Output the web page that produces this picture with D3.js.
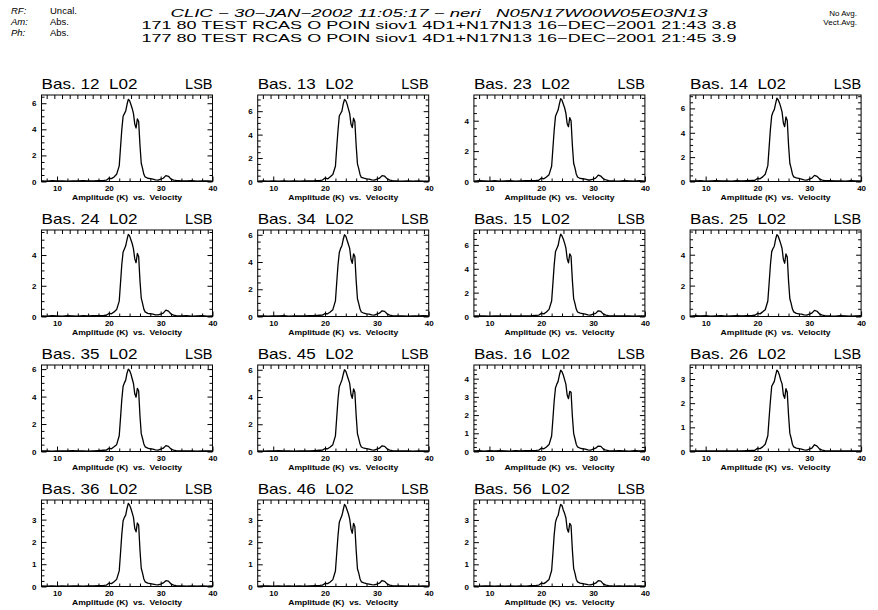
<!DOCTYPE html>
<html lang='en'>
<head>
<meta charset='UTF-8'>
<style>
  body { margin: 0; background: #fff; }
  svg { display: block; }
  text { font-family: 'Liberation Sans', Arial, sans-serif; fill: #000; }
</style>
<script src="https://cdnjs.cloudflare.com/ajax/libs/d3/7.8.5/d3.min.js"></script>
<title>CLIC spectra</title>
</head>
<body>
<svg id='chart'></svg>
<script>
'use strict'

// velocity channels (km/s) shared by all baselines
const velocity = [7, 8, 9, 10, 11, 12, 13, 14, 15, 16, 17, 18, 19,
  19.5, 20, 20.5, 21, 21.5,
  22, 22.25, 22.5, 22.75, 23, 23.25, 23.5, 23.75, 24, 24.25, 24.5, 24.75, 25, 25.25, 25.5, 25.75, 26, 26.25, 26.5, 26.75, 27,
  27.5, 28, 28.5, 29, 29.5, 30, 30.5, 31, 31.5, 32, 32.5, 33,
  34, 35, 36, 37, 38, 39, 40]

const amp12 = [0.05,0.03,0.06,0.04,0.05,0.03,0.05,0.04,0.06,0.05,0.04,0.06,0.08, 0.10,0.25,0.22,0.35,0.55, 1.2,2.6,4.0,5.0,5.2,5.4,5.9,6.3,6.2,5.9,5.6,5.2,4.4,4.1,4.8,4.6,2.8,1.4,1.0,0.55,0.35, 0.25,0.22,0.18,0.12,0.10,0.18,0.25,0.45,0.40,0.18,0.10,0.08, 0.05,0.04,0.06,0.03,0.05,0.04,0.03]
const amp13 = [0.04,0.06,0.03,0.05,0.04,0.06,0.03,0.05,0.04,0.06,0.05,0.07,0.10, 0.12,0.30,0.22,0.40,0.60, 1.3,2.9,4.4,5.6,5.8,6.0,6.6,7.0,6.9,6.6,6.2,5.8,4.9,4.6,5.4,5.1,3.1,1.5,1.1,0.60,0.35, 0.28,0.22,0.20,0.14,0.12,0.20,0.28,0.50,0.45,0.22,0.12,0.08, 0.05,0.03,0.06,0.04,0.05,0.03,0.04]
const amp23 = [0.03,0.05,0.04,0.02,0.05,0.03,0.04,0.05,0.03,0.04,0.05,0.06,0.07, 0.08,0.22,0.18,0.30,0.45, 1.0,2.2,3.4,4.3,4.5,4.7,5.1,5.45,5.35,5.1,4.85,4.5,3.8,3.6,4.2,4.0,2.4,1.2,0.9,0.5,0.3, 0.20,0.18,0.15,0.10,0.10,0.15,0.22,0.42,0.35,0.18,0.10,0.06, 0.04,0.03,0.05,0.04,0.03,0.05,0.03]
const amp14 = [0.05,0.04,0.06,0.03,0.05,0.06,0.04,0.05,0.03,0.06,0.05,0.08,0.10, 0.10,0.25,0.22,0.38,0.60, 1.3,2.8,4.3,5.4,5.7,5.9,6.4,6.85,6.7,6.45,6.1,5.7,4.8,4.5,5.3,5.0,3.0,1.5,1.1,0.60,0.38, 0.30,0.25,0.20,0.14,0.12,0.20,0.28,0.50,0.42,0.20,0.12,0.08, 0.06,0.04,0.05,0.03,0.06,0.04,0.05]
const amp24 = [0.04,0.03,0.05,0.04,0.03,0.05,0.04,0.03,0.05,0.04,0.05,0.06,0.07, 0.08,0.20,0.18,0.30,0.45, 1.0,2.2,3.4,4.2,4.4,4.6,5.0,5.35,5.25,5.0,4.75,4.4,3.75,3.5,4.1,3.9,2.35,1.2,0.85,0.48,0.30, 0.20,0.18,0.15,0.10,0.10,0.16,0.22,0.42,0.35,0.16,0.09,0.06, 0.04,0.05,0.03,0.04,0.05,0.03,0.04]
const amp34 = [0.05,0.04,0.03,0.05,0.04,0.06,0.03,0.05,0.04,0.05,0.06,0.07,0.09, 0.10,0.22,0.20,0.33,0.50, 1.15,2.5,3.8,4.7,5.0,5.2,5.65,6.0,5.9,5.6,5.3,5.0,4.2,3.9,4.6,4.4,2.65,1.3,0.95,0.55,0.33, 0.24,0.20,0.18,0.12,0.10,0.18,0.24,0.42,0.38,0.18,0.10,0.07, 0.05,0.04,0.03,0.05,0.04,0.06,0.04]
const amp15 = [0.04,0.06,0.05,0.03,0.05,0.04,0.06,0.04,0.05,0.04,0.06,0.07,0.10, 0.11,0.26,0.22,0.38,0.60, 1.3,2.8,4.35,5.45,5.7,5.95,6.5,6.9,6.75,6.5,6.15,5.75,4.85,4.5,5.25,5.05,3.05,1.5,1.1,0.62,0.38, 0.28,0.24,0.20,0.14,0.12,0.20,0.26,0.48,0.42,0.20,0.12,0.08, 0.05,0.06,0.04,0.05,0.03,0.05,0.04]
const amp25 = [0.03,0.05,0.04,0.05,0.03,0.04,0.05,0.03,0.04,0.05,0.04,0.06,0.07, 0.08,0.20,0.17,0.30,0.44, 1.0,2.15,3.35,4.2,4.4,4.55,5.0,5.3,5.2,4.95,4.7,4.4,3.7,3.45,4.05,3.85,2.3,1.15,0.85,0.48,0.30, 0.20,0.17,0.15,0.10,0.09,0.15,0.22,0.40,0.34,0.16,0.09,0.06, 0.04,0.03,0.05,0.04,0.03,0.04,0.05]
const amp35 = [0.04,0.05,0.03,0.05,0.04,0.05,0.06,0.04,0.05,0.03,0.05,0.07,0.09, 0.10,0.23,0.20,0.34,0.50, 1.15,2.45,3.8,4.75,5.0,5.2,5.7,6.0,5.9,5.65,5.3,4.95,4.2,3.95,4.6,4.4,2.6,1.3,0.95,0.55,0.34, 0.25,0.20,0.17,0.12,0.10,0.17,0.24,0.43,0.37,0.17,0.10,0.07, 0.04,0.05,0.04,0.03,0.05,0.04,0.05]
const amp45 = [0.05,0.03,0.05,0.04,0.06,0.04,0.05,0.03,0.05,0.05,0.04,0.07,0.09, 0.10,0.22,0.20,0.33,0.50, 1.15,2.5,3.85,4.75,5.0,5.25,5.65,6.0,5.9,5.6,5.3,5.0,4.2,3.9,4.6,4.35,2.65,1.3,0.95,0.55,0.33, 0.24,0.21,0.18,0.12,0.10,0.18,0.24,0.42,0.38,0.18,0.10,0.07, 0.05,0.04,0.05,0.03,0.04,0.05,0.04]
const amp16 = [0.03,0.04,0.02,0.04,0.03,0.04,0.03,0.02,0.04,0.03,0.04,0.05,0.06, 0.07,0.18,0.15,0.25,0.38, 0.85,1.8,2.8,3.5,3.7,3.85,4.2,4.46,4.38,4.2,3.95,3.7,3.1,2.9,3.3,3.25,1.95,1.0,0.7,0.4,0.25, 0.18,0.15,0.13,0.09,0.07,0.13,0.18,0.30,0.28,0.13,0.07,0.05, 0.03,0.04,0.03,0.02,0.04,0.03,0.04]
const amp26 = [0.02,0.03,0.02,0.03,0.02,0.03,0.02,0.03,0.02,0.03,0.03,0.04,0.05, 0.05,0.13,0.12,0.19,0.30, 0.65,1.4,2.1,2.7,2.8,2.9,3.15,3.37,3.3,3.15,2.95,2.8,2.35,2.2,2.6,2.45,1.5,0.75,0.55,0.30,0.19, 0.14,0.12,0.10,0.07,0.06,0.10,0.14,0.28,0.22,0.10,0.06,0.04, 0.03,0.02,0.03,0.02,0.03,0.02,0.03]
const amp36 = [0.03,0.02,0.03,0.02,0.03,0.02,0.03,0.03,0.02,0.03,0.03,0.04,0.05, 0.06,0.15,0.13,0.21,0.32, 0.7,1.5,2.35,2.95,3.1,3.2,3.5,3.73,3.65,3.5,3.3,3.1,2.6,2.45,2.85,2.75,1.65,0.82,0.6,0.34,0.21, 0.15,0.13,0.11,0.08,0.07,0.11,0.16,0.26,0.24,0.11,0.06,0.04, 0.03,0.02,0.03,0.02,0.03,0.02,0.03]
const amp46 = [0.02,0.03,0.03,0.02,0.03,0.02,0.03,0.02,0.03,0.02,0.03,0.04,0.05, 0.06,0.14,0.13,0.20,0.31, 0.7,1.5,2.3,2.9,3.05,3.2,3.45,3.7,3.62,3.45,3.28,3.05,2.6,2.4,2.85,2.7,1.65,0.8,0.6,0.34,0.21, 0.16,0.13,0.11,0.08,0.07,0.11,0.15,0.27,0.23,0.11,0.06,0.04, 0.03,0.03,0.02,0.03,0.02,0.03,0.02]
const amp56 = [0.03,0.02,0.03,0.03,0.02,0.03,0.02,0.03,0.02,0.03,0.02,0.04,0.05, 0.06,0.15,0.13,0.21,0.32, 0.72,1.5,2.35,2.9,3.1,3.2,3.5,3.7,3.65,3.45,3.3,3.1,2.6,2.45,2.85,2.75,1.65,0.82,0.6,0.33,0.21, 0.15,0.13,0.11,0.08,0.07,0.11,0.15,0.26,0.24,0.11,0.06,0.04, 0.02,0.03,0.02,0.03,0.02,0.03,0.02]

const baselines = ['12', '13', '23', '14', '24', '34', '15', '25', '35', '45', '16', '26', '36', '46', '56']
const amplitudes = [amp12, amp13, amp23, amp14, amp24, amp34, amp15, amp25, amp35, amp45, amp16, amp26, amp36, amp46, amp56]
const yMax = [6.63, 7.38, 5.69, 7.1, 5.63, 6.35, 7.25, 5.6, 6.3, 6.35, 4.75, 3.58, 3.88, 3.9, 3.9]
const yLabelStep = [2, 2, 2, 2, 2, 2, 2, 2, 2, 2, 1, 1, 1, 1, 1]
const xDomain = [7, 40]
const xLabelTicks = [10, 20, 30, 40]

const headerKeys = ['RF:', 'Am:', 'Ph:']
const headerVals = ['Uncal.', 'Abs.', 'Abs.']
const titleLines = [
  'CLIC \u2212 30\u2212JAN\u22122002 11:05:17 \u2212 neri   N05N17W00W05E03N13',
  '171 80 TEST RCAS O POIN siov1 4D1+N17N13 16\u2212DEC\u22122001 21:43 3.8',
  '177 80 TEST RCAS O POIN siov1 4D1+N17N13 16\u2212DEC\u22122001 21:45 3.9'
]
const avgLines = ['No Avg.', 'Vect.Avg.']

const W = 878, H = 610
const svg = d3.select('#chart').attr('width', W).attr('height', H)

// header
const hdr = svg.append('g')
headerKeys.forEach((k, i) => {
  hdr.append('text').attr('x', 11).attr('y', 13.5 + i * 11.3)
    .style('font-size', '9.5px').style('font-style', 'italic').text(k)
  hdr.append('text').attr('x', 50).attr('y', 13.5 + i * 11.3)
    .style('font-size', '9.5px').text(headerVals[i])
})
const titleLen = [537, 595, 595]
titleLines.forEach((t, i) => {
  hdr.append('text').attr('x', 439).attr('y', 16.5 + i * 12.6)
    .attr('text-anchor', 'middle')
    .attr('textLength', titleLen[i]).attr('lengthAdjust', 'spacingAndGlyphs')
    .style('font-size', '11px').style('font-style', i === 0 ? 'italic' : 'normal')
    .attr('xml:space', 'preserve')
    .text(t)
})
avgLines.forEach((t, i) => {
  hdr.append('text').attr('x', 857).attr('y', 15.5 + i * 9)
    .attr('text-anchor', 'end').style('font-size', '8px').text(t)
})

// panel layout
const boxW = 171, boxH = 86.5
const colX = c => 41.5 + c * 216.2
const rowY = r => 95 + r * 135

const x = d3.scaleLinear().domain(xDomain).range([0, boxW])

baselines.forEach((b, i) => {
  const c = i % 4, r = Math.floor(i / 4)
  const g = svg.append('g').attr('transform', `translate(${colX(c)},${rowY(r)})`)
  const y = d3.scaleLinear().domain([0, yMax[i]]).range([boxH, 0])
  const step = yLabelStep[i]

  // title
  g.append('text').attr('x', 0).attr('y', -6.5)
    .attr('xml:space', 'preserve')
    .attr('textLength', 96).attr('lengthAdjust', 'spacingAndGlyphs')
    .style('font-size', '14.5px')
    .text(`Bas. ${b}  L02`)
  g.append('text').attr('x', boxW).attr('y', -6.5)
    .attr('text-anchor', 'end').style('font-size', '14.5px').text('LSB')

  const yMajor = d3.range(0, yMax[i] + 1e-9, step)
  const yMinor = d3.range(0, yMax[i], step / 4).filter(v => yMajor.indexOf(v) < 0)
  const xMinor = d3.range(8, 40, 2).filter(v => xLabelTicks.indexOf(v) < 0)
  const topTicks = d3.range(8, 40, 1.48)

  const styleAxis = sel => {
    sel.select('.domain').remove()
    sel.selectAll('line').attr('stroke', '#000').attr('stroke-width', 1)
    sel.selectAll('text').style('font-size', '8px').style('font-weight', 'bold')
    sel.attr('font-family', null).attr('font-size', null)
  }

  // left / right ticks
  g.append('g').call(d3.axisLeft(y).tickValues(yMajor).tickSize(-5).tickPadding(5)
    .tickFormat(d3.format('d'))).call(styleAxis)
  g.append('g').call(d3.axisLeft(y).tickValues(yMinor).tickSize(-3).tickFormat('')).call(styleAxis)
  g.append('g').attr('transform', `translate(${boxW},0)`)
    .call(d3.axisRight(y).tickValues(yMajor).tickSize(-5).tickFormat('')).call(styleAxis)
  g.append('g').attr('transform', `translate(${boxW},0)`)
    .call(d3.axisRight(y).tickValues(yMinor).tickSize(-3).tickFormat('')).call(styleAxis)

  // bottom / top ticks
  g.append('g').attr('transform', `translate(0,${boxH})`)
    .call(d3.axisBottom(x).tickValues(xLabelTicks).tickSize(-5).tickPadding(4)
      .tickFormat(d3.format('d'))).call(styleAxis)
  g.append('g').attr('transform', `translate(0,${boxH})`)
    .call(d3.axisBottom(x).tickValues(xMinor).tickSize(-3).tickFormat('')).call(styleAxis)
  g.append('g').call(d3.axisTop(x).tickValues(topTicks).tickSize(-4).tickFormat('')).call(styleAxis)

  // box
  g.append('rect').attr('width', boxW).attr('height', boxH)
    .attr('fill', 'none').attr('stroke', '#000').attr('stroke-width', 1)

  // spectrum
  const clipId = 'clip' + b
  g.append('clipPath').attr('id', clipId).append('rect')
    .attr('width', boxW).attr('height', boxH + 1).attr('y', -0.5)
  const line = d3.line().x((d, k) => x(velocity[k])).y(d => y(d))
  g.append('path').datum(amplitudes[i])
    .attr('clip-path', `url(#${clipId})`)
    .attr('d', line).attr('fill', 'none').attr('stroke', '#000')
    .attr('stroke-width', 1.3).attr('stroke-linejoin', 'round')

  // axis caption
  g.append('text').attr('x', boxW / 2).attr('y', boxH + 18.8)
    .attr('text-anchor', 'middle').attr('xml:space', 'preserve')
    .attr('textLength', 110).attr('lengthAdjust', 'spacingAndGlyphs')
    .style('font-size', '8px').style('font-weight', 'bold')
    .text('Amplitude (K)  vs.  Velocity')
})
</script>
</body>
</html>
